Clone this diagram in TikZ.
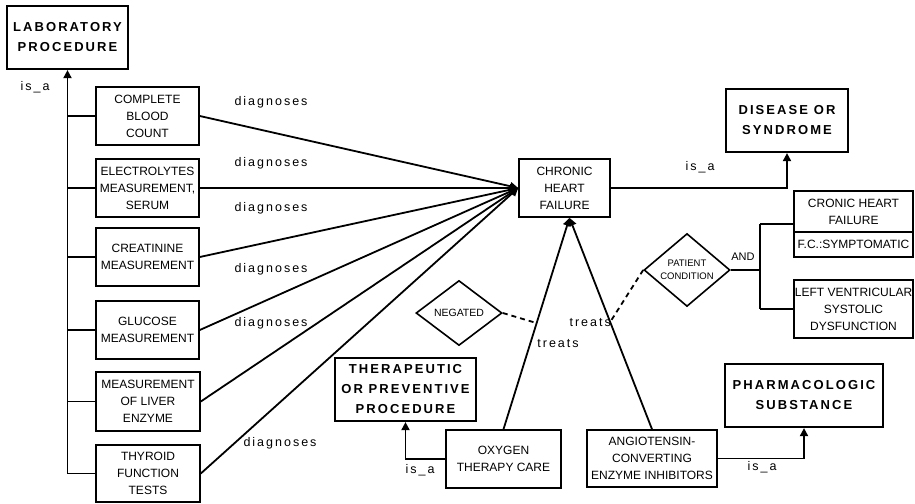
\documentclass[tikz,border=0pt]{standalone}
\usepackage{fontspec}
\setmainfont{Liberation Sans}
\newfontfamily\lblfont[LetterSpace=16]{Liberation Sans}
\usetikzlibrary{shapes.geometric,arrows.meta,calc}
\begin{document}
\begin{tikzpicture}[x=1pt,y=-1pt,
  box/.style={draw,line width=1.6pt,align=center,inner sep=0pt,
    font=\fontsize{12}{17}\selectfont},
  hdr/.style={draw,line width=2.2pt,align=center,inner sep=0pt,
    font=\lblfont\bfseries\fontsize{13}{20}\selectfont},
  dia/.style={draw,diamond,line width=1.6pt,align=center,inner sep=0pt},
  lbl/.style={inner sep=0pt,font=\lblfont\fontsize{12.5}{15}\selectfont},
  con/.style={line width=1.8pt},
  arr/.style={con,-{Triangle[length=8pt,width=8pt]}},
  dsh/.style={line width=1.8pt,dash pattern=on 5pt off 4pt}]
\useasboundingbox (0,0) rectangle (915,503);

% class boxes
\node[hdr,minimum width=121,minimum height=63] (lab) at (67.5,37.5) {LABORATORY\\PROCEDURE};
\node[hdr,minimum width=122,minimum height=63] (dis) at (787,120.5) {DISEASE OR\\SYNDROME};
\node[hdr,minimum width=141,minimum height=63] (tpp) at (405.5,389.5) {THERAPEUTIC\\OR PREVENTIVE\\PROCEDURE};
\node[hdr,minimum width=158,minimum height=63] (pha) at (804,395.5) {PHARMACOLOGIC\\SUBSTANCE};

% laboratory tests
\node[box,minimum width=103,minimum height=58] (cbc) at (147.5,116) {COMPLETE\\BLOOD\\COUNT};
\node[box,minimum width=103,minimum height=58] (ele) at (147.5,188) {ELECTROLYTES\\MEASUREMENT,\\SERUM};
\node[box,minimum width=103,minimum height=58] (cre) at (147.5,257) {CREATININE\\MEASUREMENT};
\node[box,minimum width=103,minimum height=58] (glu) at (147.5,330) {GLUCOSE\\MEASUREMENT};
\node[box,minimum width=104,minimum height=59] (liv) at (148,401.5) {MEASUREMENT\\OF LIVER\\ENZYME};
\node[box,minimum width=104,minimum height=57] (thy) at (148,473.5) {THYROID\\FUNCTION\\TESTS};

% disease and conditions
\node[box,minimum width=91,minimum height=58] (chf) at (564.5,188) {CHRONIC\\HEART\\FAILURE};
\node[box,minimum width=119,minimum height=41] (cro) at (853.5,211.5) {CRONIC HEART\\FAILURE};
\node[box,minimum width=119,minimum height=25] (fcs) at (853.5,244.5) {F.C.:SYMPTOMATIC};
\node[box,minimum width=119,minimum height=58] (lvs) at (853.5,309) {LEFT VENTRICULAR\\SYSTOLIC\\DYSFUNCTION};
\node[dia,minimum width=86,minimum height=66,font=\fontsize{9.5}{13}\selectfont] (pat) at (687,270) {PATIENT\\CONDITION};
\node[dia,minimum width=86,minimum height=65,font=\fontsize{10.5}{13}\selectfont] (neg) at (459,313) {NEGATED};

% treatments
\node[box,minimum width=115,minimum height=58] (oxy) at (503.5,459) {OXYGEN\\THERAPY CARE};
\node[box,minimum width=130,minimum height=57] (ace) at (652,458.5) {ANGIOTENSIN-\\CONVERTING\\ENZYME INHIBITORS};

% is_a trunk of laboratory tests
\coordinate (trunk) at (lab.south |- thy.west);
\draw[arr] (trunk) -- (lab.south);
\foreach \n in {cbc,ele,cre,glu,liv,thy}
  \draw[con] (\n.west) -- (\n.west -| lab.south);
\node[lbl] (isa1) at (35,87) {is\_a};

% diagnoses
\foreach \n in {cbc,ele,cre,glu,liv,thy}
  \draw[arr] (\n.east) -- (chf.west);
\node[lbl] (d1) at (271,102) {diagnoses};
\node[lbl] (d2) at (271,163) {diagnoses};
\node[lbl] (d3) at (271,208) {diagnoses};
\node[lbl] (d4) at (271,269) {diagnoses};
\node[lbl] (d5) at (271,323) {diagnoses};
\node[lbl] (d6) at (280,443) {diagnoses};

% disease is_a
\draw[arr] (chf.east) -| (dis.south);
\node[lbl] (isa2) at (700,167) {is\_a};

% patient condition conjunction
\coordinate (andtop) at (760,224);
\coordinate (andbot) at (760,309);
\draw[con] (andtop) -- (andbot);
\draw[con] (andtop) -- (andtop -| cro.west);
\draw[con] (andbot) -- (lvs.west);
\draw[con] (pat.east) -- (pat.east -| andtop);
\node[font=\fontsize{11}{13}\selectfont,inner sep=0pt] (and) at (743,257) {AND};

% treats
\coordinate (chfin) at ([xshift=5pt]chf.south);
\draw[arr] (oxy.north) -- (chfin);
\draw[arr] (ace.north) -- (chfin);
\coordinate (negon) at ($(oxy.north)!0.502!(chfin)$);
\coordinate (paton) at ($(ace.north)!0.507!(chfin)$);
\draw[dsh] (neg.east) -- (negon);
\draw[dsh] (pat.west) -- (paton);
\node[lbl,anchor=east] (t1) at (611,323) {treats};
\node[lbl] (t2) at (558,344) {treats};

% treatment is_a
\draw[arr] (oxy.west) -| (tpp.south);
\node[lbl] (isa3) at (420,470) {is\_a};
\draw[arr] (ace.east) -| (pha.south);
\node[lbl] (isa4) at (762,467) {is\_a};
\end{tikzpicture}
\end{document}
